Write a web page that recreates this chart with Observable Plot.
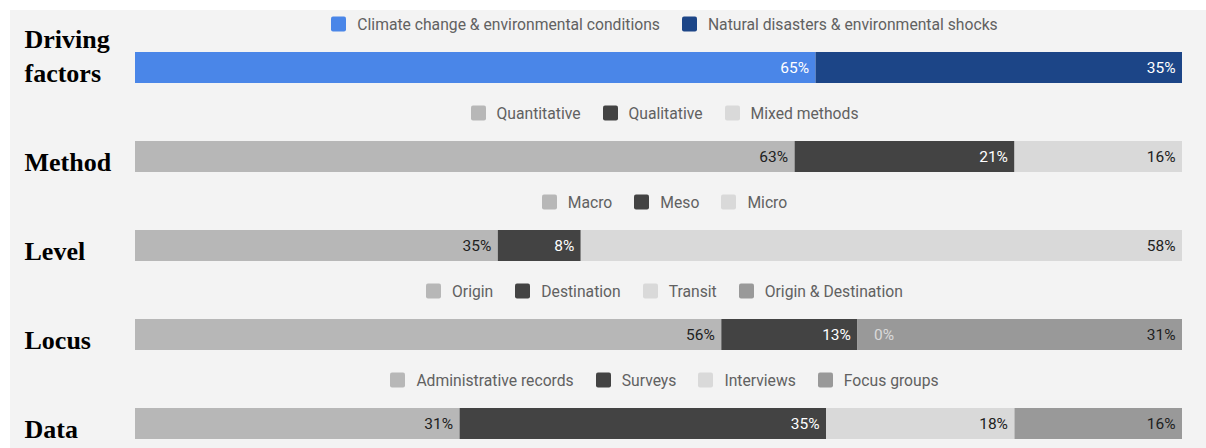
<!DOCTYPE html>
<html><head><meta charset="utf-8">
<script src="https://cdn.jsdelivr.net/npm/d3@7"></script>
<script src="https://cdn.jsdelivr.net/npm/@observablehq/plot@0.6"></script>
<style>
body{margin:0;background:#fff;}
#wrap{position:relative;width:1206px;height:448px;overflow:hidden;background:#fff;}
#panel{position:absolute;left:10px;top:10px;width:1196px;height:438px;background:#f3f3f3;}
#chart{position:absolute;left:0;top:0;}
.leg{position:absolute;left:0;width:1329px;display:flex;justify-content:center;transform:translateY(-50%);}
#wrap .lg-swatches{font-family:Roboto,sans-serif;font-size:15.7px;color:#616161;min-height:0;margin:0;display:flex;align-items:center;flex-wrap:nowrap;}
#wrap .lg-swatch{margin-right:22px;display:inline-flex;align-items:center;}
#wrap .lg-swatch:last-child{margin-right:0;}
#wrap .lg-swatch > svg{margin-right:11px;}
#wrap .lg-swatch rect{rx:2px;ry:2px;}
</style>
</head><body>
<div id="wrap"><div id="panel"></div><div id="chart"></div></div>
<script>
// ---- data ----
const rows = ["Driving factors", "Method", "Level", "Locus", "Data"];
const rowTickLabels = ["Driving\nfactors", "Method", "Level", "Locus", "Data"];

const drivingCats = ["Climate change & environmental conditions", "Natural disasters & environmental shocks"];
const drivingValues = [65, 35];
const methodCats = ["Quantitative", "Qualitative", "Mixed methods"];
const methodValues = [63, 21, 16];
const levelCats = ["Macro", "Meso", "Micro"];
const levelValues = [35, 8, 58];
const locusCats = ["Origin", "Destination", "Transit", "Origin & Destination"];
const locusValues = [56, 13, 0, 31];
const dataCats = ["Administrative records", "Surveys", "Interviews", "Focus groups"];
const dataValues = [31, 35, 18, 16];

// palette (styles)
const drivingColors = ["#4a86e8", "#1c4587"];
const methodColors = ["#b7b7b7", "#434343", "#d9d9d9"];
const levelColors = ["#b7b7b7", "#434343", "#d9d9d9"];
const locusColors = ["#b7b7b7", "#434343", "#d9d9d9", "#999999"];
const dataColors = ["#b7b7b7", "#434343", "#d9d9d9", "#999999"];

// ---- build table ----
const groups = [
  [rows[0], drivingCats, drivingValues, drivingColors],
  [rows[1], methodCats, methodValues, methodColors],
  [rows[2], levelCats, levelValues, levelColors],
  [rows[3], locusCats, locusValues, locusColors],
  [rows[4], dataCats, dataValues, dataColors]
];
const table = [];
const allCats = [], allColors = [];
for (const [row, cats, vals, cols] of groups) {
  cats.forEach((c, i) => { table.push({row, cat: c, value: vals[i]}); allCats.push(c); allColors.push(cols[i]); });
}
const colorOf = Object.fromEntries(allCats.map((c, i) => [c, allColors[i]]));
const isDark = c => d3.lab(colorOf[c]).l < 60;

const stackOpts = {x: "value", y: "row", z: "cat", offset: "normalize"};

const chart = Plot.plot({
  width: 1206, height: 448,
  marginLeft: 135, marginRight: 24, marginTop: 52, marginBottom: 9,
  style: {background: "transparent", fontFamily: "Roboto, sans-serif", fontSize: "15.5px", overflow: "visible"},
  x: {domain: [0, 1], axis: null},
  y: {domain: rows, paddingInner: 0.652, paddingOuter: 0, label: null},
  color: {domain: allCats, range: allColors},
  marks: [
    Plot.barX(table, Plot.stackX({...stackOpts, fill: "cat"})),
    Plot.text(table, Plot.stackX2({...stackOpts, text: d => d.value > 0 && isDark(d.cat) ? d.value + "%" : null, textAnchor: "end", dx: -7, fill: "#ffffff"})),
    Plot.text(table, Plot.stackX2({...stackOpts, text: d => d.value > 0 && !isDark(d.cat) ? d.value + "%" : null, textAnchor: "end", dx: -7, fill: "#212121"})),
    Plot.text(table, Plot.stackX2({...stackOpts, text: d => d.value === 0 ? d.value + "%" : null, textAnchor: "start", dx: 16, fill: "#d9d9d9"})),
    Plot.axisY({
      tickSize: 0, tickPadding: 0, dx: -111, dy: 13.5, textAnchor: "start", lineAnchor: "bottom", lineHeight: 1.3,
      fontSize: 26, fontWeight: "bold", fontFamily: "'Liberation Serif', 'Times New Roman', serif",
      label: null, tickFormat: d => rowTickLabels[rows.indexOf(d)]
    })
  ]
});
document.getElementById("chart").appendChild(chart);

const y = chart.scale("y");
const wrap = document.getElementById("wrap");
for (const [row, cats, vals, cols] of groups) {
  const lg = Plot.legend({color: {domain: cats, range: cols}, legend: "swatches", swatchSize: 15, className: "lg"});
  const holder = document.createElement("div");
  holder.className = "leg";
  holder.style.top = (y.apply(row) - 28) + "px";
  holder.appendChild(lg);
  wrap.appendChild(holder);
}
</script>
</body></html>
